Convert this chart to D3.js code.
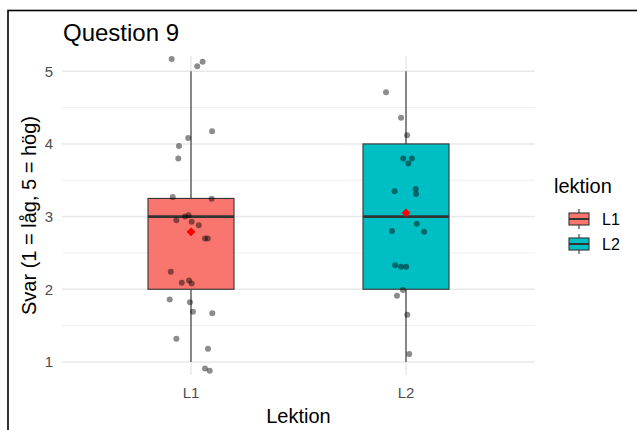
<!DOCTYPE html>
<html>
<head>
<meta charset="utf-8">
<script src="https://cdn.jsdelivr.net/npm/d3@7"></script>
<style>
  body { margin: 0; background: #fff; }
  svg { display: block; font-family: "Liberation Sans", Arial, sans-serif; }
</style>
</head>
<body>
<div id="chart"></div>
<script>
// categories
var lektioner = ["L1", "L2"];
var fillColors = ["#F8766D", "#00BFC4"];

// box summaries
var whiskerLow = [1, 1];
var q1 = [2, 2];
var medians = [3, 3];
var q3 = [3.25, 4];
var whiskerHigh = [5, 5];
var means = [2.79, 3.05];

// jittered answers: horizontal offset (in category units) and value
var l1Offset = [-0.090, 0.054, 0.029, 0.098, -0.013, -0.056, -0.059, -0.085, 0.096, -0.011,
  -0.028, -0.068, 0.003, 0.036, 0.065, 0.078, -0.094, -0.043, -0.009, 0.003,
  -0.099, -0.005, 0.009, 0.099, -0.068, 0.079, 0.065, 0.087];
var l1Value = [5.17, 5.13, 5.07, 4.175, 4.08, 3.97, 3.80, 3.27, 3.245, 3.02,
  3.00, 2.95, 2.93, 2.88, 2.70, 2.70, 2.24, 2.09, 2.12, 2.08,
  1.86, 1.82, 1.69, 1.67, 1.32, 1.18, 0.91, 0.88];
var l2Offset = [-0.093, -0.023, 0.005, -0.013, 0.027, 0.011, -0.053, 0.045, 0.047, 0.050,
  -0.065, 0.084, -0.050, -0.023, 0.001, -0.014, -0.042, 0.006, 0.015];
var l2Value = [4.71, 4.36, 4.12, 3.80, 3.80, 3.73, 3.35, 3.38, 3.31, 2.90,
  2.80, 2.79, 2.33, 2.31, 2.31, 1.99, 1.91, 1.65, 1.11];

var yTicks = [1, 2, 3, 4, 5];
var yMinor = [1.5, 2.5, 3.5, 4.5];

var w = 637, h = 430;
var svg = d3.select('#chart').append('svg').attr('width', w).attr('height', h);

// outer border (crop of a larger framed figure)
svg.append('rect').attr('x', 8).attr('y', 10.5).attr('width', 700).attr('height', 500)
  .attr('fill', 'none').attr('stroke', '#000').attr('stroke-width', 1.6);

var panel = { left: 62, right: 535, top: 56, bottom: 375 };

var x = d3.scalePoint().domain(lektioner).range([panel.left, panel.right]).padding(0.6);
var step = x.step();
var y = d3.scaleLinear().domain([0.82, 5.21]).range([panel.bottom, panel.top]);

// grid
svg.selectAll('.minor').data(yMinor).enter().append('line')
  .attr('x1', panel.left).attr('x2', panel.right)
  .attr('y1', d => y(d)).attr('y2', d => y(d))
  .attr('stroke', '#EBEBEB').attr('stroke-width', 0.8);
svg.selectAll('.major').data(yTicks).enter().append('line')
  .attr('x1', panel.left).attr('x2', panel.right)
  .attr('y1', d => y(d)).attr('y2', d => y(d))
  .attr('stroke', '#E8E8E8').attr('stroke-width', 1.5);
svg.selectAll('.vmajor').data(lektioner).enter().append('line')
  .attr('x1', d => x(d)).attr('x2', d => x(d))
  .attr('y1', panel.top).attr('y2', panel.bottom)
  .attr('stroke', '#E8E8E8').attr('stroke-width', 1.5);

// boxplots
var boxW = 0.4 * step;
var boxes = svg.selectAll('.box').data(lektioner).enter().append('g').attr('class', 'box');
boxes.append('line')
  .attr('x1', d => x(d)).attr('x2', d => x(d))
  .attr('y1', (d, i) => y(whiskerLow[i])).attr('y2', (d, i) => y(whiskerHigh[i]))
  .attr('stroke', '#333333').attr('stroke-width', 1.1);
boxes.append('rect')
  .attr('x', d => x(d) - boxW / 2).attr('width', boxW)
  .attr('y', (d, i) => y(q3[i])).attr('height', (d, i) => y(q1[i]) - y(q3[i]))
  .attr('fill', (d, i) => fillColors[i]).attr('stroke', '#333333').attr('stroke-width', 1.1);
boxes.append('line')
  .attr('x1', d => x(d) - boxW / 2).attr('x2', d => x(d) + boxW / 2)
  .attr('y1', (d, i) => y(medians[i])).attr('y2', (d, i) => y(medians[i]))
  .attr('stroke', '#333333').attr('stroke-width', 2.6);

// jittered points
var pts = [];
l1Value.forEach((v, i) => pts.push({ cat: 'L1', dx: l1Offset[i], v: v }));
l2Value.forEach((v, i) => pts.push({ cat: 'L2', dx: l2Offset[i], v: v }));
svg.selectAll('.pt').data(pts).enter().append('circle')
  .attr('cx', d => x(d.cat) + d.dx * step)
  .attr('cy', d => y(d.v))
  .attr('r', 3)
  .attr('fill', '#000').attr('fill-opacity', 0.45);

// means
var dr = 4.4;
svg.selectAll('.mean').data(lektioner).enter().append('path')
  .attr('transform', (d, i) => 'translate(' + x(d) + ',' + y(means[i]) + ')')
  .attr('d', 'M0,' + (-dr) + 'L' + dr + ',0L0,' + dr + 'L' + (-dr) + ',0Z')
  .attr('fill', '#FF0000');

// axes text
svg.selectAll('.ytick').data(yTicks).enter().append('text')
  .attr('x', 53).attr('y', d => y(d)).attr('dy', '0.36em')
  .attr('text-anchor', 'end').attr('fill', '#4D4D4D').style('font-size', '15px')
  .text(d => d);
svg.selectAll('.xtick').data(lektioner).enter().append('text')
  .attr('x', d => x(d)).attr('y', 398)
  .attr('text-anchor', 'middle').attr('fill', '#4D4D4D').style('font-size', '15px')
  .text(d => d);

svg.append('text').attr('x', (panel.left + panel.right) / 2).attr('y', 423)
  .attr('text-anchor', 'middle').style('font-size', '20px').text('Lektion');
svg.append('text')
  .attr('transform', 'translate(36,' + (panel.top + panel.bottom) / 2 + ') rotate(-90)')
  .attr('text-anchor', 'middle').style('font-size', '20px').text('Svar (1 = låg, 5 = hög)');
svg.append('text').attr('x', 63).attr('y', 41).style('font-size', '24px').text('Question 9');

// legend
var lg = svg.append('g').attr('transform', 'translate(554,0)');
lg.append('text').attr('x', 0).attr('y', 193).style('font-size', '20px').text('lektion');
var items = lg.selectAll('.key').data(lektioner).enter().append('g')
  .attr('transform', (d, i) => 'translate(14,' + (219 + i * 25) + ')');
items.append('line').attr('x1', 11).attr('x2', 11).attr('y1', -10).attr('y2', 10)
  .attr('stroke', '#333333').attr('stroke-width', 1.1);
items.append('rect').attr('x', 1).attr('y', -6).attr('width', 20).attr('height', 12)
  .attr('fill', (d, i) => fillColors[i]).attr('stroke', '#333333').attr('stroke-width', 1.1);
items.append('line').attr('x1', 1).attr('x2', 21).attr('y1', 0).attr('y2', 0)
  .attr('stroke', '#333333').attr('stroke-width', 2);
items.append('text').attr('x', 34).attr('y', 0).attr('dy', '0.36em')
  .style('font-size', '16px').text(d => d);
</script>
</body>
</html>
